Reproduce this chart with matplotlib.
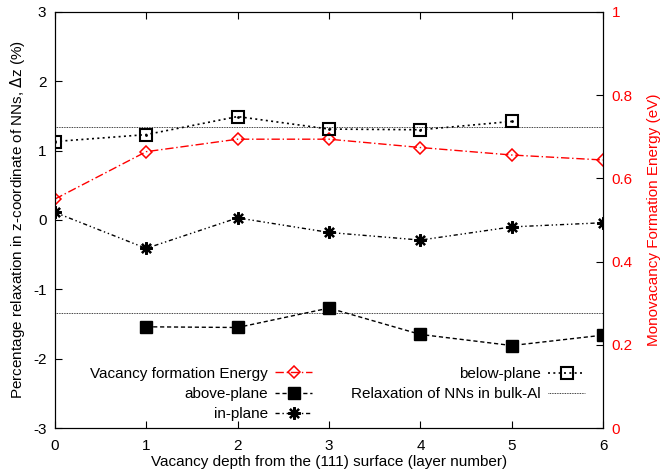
import matplotlib
matplotlib.use("Agg")
import matplotlib.pyplot as plt

plt.rcParams['font.family'] = ['Liberation Sans', 'DejaVu Sans']
plt.rcParams['font.size'] = 11
plt.rcParams['axes.unicode_minus'] = False

# data
layer = [0, 1, 2, 3, 4, 5, 6]
energy = [0.55, 0.664, 0.694, 0.694, 0.674, 0.656, 0.644]
above_x = [1, 2, 3, 4, 5, 6]
above = [-1.54, -1.55, -1.27, -1.65, -1.81, -1.66]
inplane = [0.11, -0.41, 0.03, -0.18, -0.29, -0.10, -0.04]
below_x = [0, 1, 2, 3, 4, 5]
below = [1.13, 1.23, 1.49, 1.31, 1.30, 1.42]
bulk = [1.34, -1.34]

fig, ax = plt.subplots(figsize=(6.6, 4.72), dpi=100)
fig.subplots_adjust(left=0.083, right=0.914, top=0.975, bottom=0.093)
ax2 = ax.twinx()

# left axis series
l_above, = ax.plot(above_x, above, color='black', linestyle=(0, (3, 2)), lw=1,
                   marker='s', ms=8, mfc='black', mec='black')
l_in, = ax.plot(layer, inplane, color='black', linestyle=(0, (3, 2, 1, 2, 1, 2)), lw=1,
                marker=(8, 2, 0), ms=9, mew=1.6, mfc='black', mec='black')
l_below, = ax.plot(below_x, below, color='black', linestyle=(0, (1.2, 2)), lw=1.2,
                   marker='s', ms=9, mfc='none', mec='black', mew=1.5)
ax.plot(below_x, below, linestyle='none', marker='.', ms=2, color='black')
for b in bulk:
    l_bulk = ax.axhline(b, color='black', lw=0.6, linestyle=(0, (1, 1)))

# right axis series
l_en, = ax2.plot(layer, energy, color='red', linestyle=(0, (6, 2, 1, 2)), lw=1,
                 marker='D', ms=6, mfc='none', mec='red', mew=1.1)

ax.set_xlim(0, 6)
ax.set_ylim(-3, 3)
ax2.set_ylim(0, 1)
ax.set_xticks(layer)
ax.set_yticks([-3, -2, -1, 0, 1, 2, 3])
ax2.set_yticks([0, 0.2, 0.4, 0.6, 0.8, 1])
ax2.set_yticklabels(['0', '0.2', '0.4', '0.6', '0.8', '1'])

ax.tick_params(direction='in', length=5, top=True, right=False, pad=6)
ax2.tick_params(direction='in', length=5, colors='black', labelcolor='red', pad=6)
ax.tick_params(axis='x', pad=8)

ax.set_xlabel('Vacancy depth from the (111) surface (layer number)', labelpad=1)
ax.set_ylabel(r'Percentage relaxation in z-coordinate of NNs, $\Delta$z (%)')
ax2.set_ylabel('Monovacancy Formation Energy (eV)', color='red', labelpad=10)

leg_kw = dict(markerfirst=False, frameon=False, handlelength=2.4, handletextpad=0.5,
              labelspacing=0.4, borderaxespad=0, borderpad=0,
              bbox_transform=fig.transFigure, loc='lower right')
leg1 = ax.legend([l_en, l_above, l_in],
                 ['Vacancy formation Energy', 'above-plane', 'in-plane'],
                 bbox_to_anchor=(312 / 660, 1 - 421 / 472), **leg_kw)
ax.add_artist(leg1)
ax.legend([l_below, l_bulk], ['below-plane', 'Relaxation of NNs in bulk-Al'],
          bbox_to_anchor=(585 / 660, 1 - 401 / 472), **leg_kw)

ax.set_zorder(ax2.get_zorder() + 1)
ax.patch.set_visible(False)

fig.savefig('out.png', dpi=100)
